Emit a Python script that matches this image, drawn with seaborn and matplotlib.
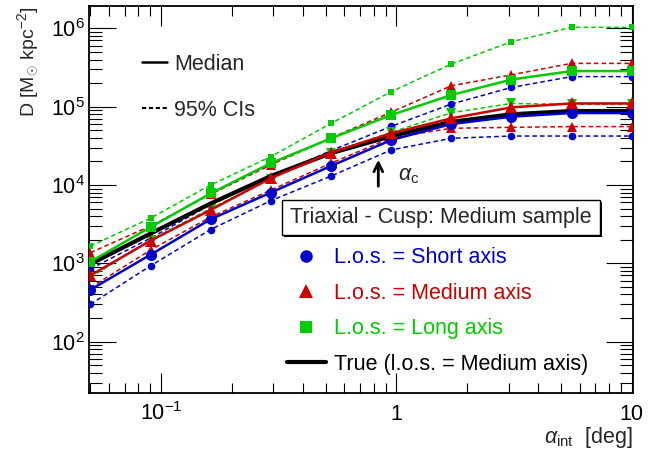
import numpy as np
import pandas as pd
import matplotlib
matplotlib.use("Agg")
import matplotlib.pyplot as plt
import seaborn as sns
from matplotlib.lines import Line2D
from matplotlib.patches import Rectangle
from matplotlib.ticker import LogLocator, NullFormatter

# ---------------- data ----------------
alpha_int = [0.05, 0.0901, 0.162, 0.292, 0.527, 0.949, 1.71, 3.08, 5.55, 10.0]

short_med = [460, 1290, 3650, 8000, 17500, 37500, 60000, 74500, 83000, 83000]
short_hi = [850, 2100, 5600, 12500, 27500, 56000, 108000, 176000, 242000, 242000]
short_lo = [300, 930, 2700, 6300, 13000, 28000, 39500, 42200, 42200, 42200]

medium_med = [700, 1950, 4800, 12200, 26000, 45700, 71000, 98000, 110000, 110000]
medium_hi = [1370, 3000, 7600, 18000, 40000, 85000, 185000, 255000, 357000, 357000]
medium_lo = [490, 1480, 3900, 8600, 19000, 40000, 53000, 54500, 55700, 55700]

long_med = [1050, 2900, 7800, 19000, 39400, 78200, 141000, 222000, 285000, 285000]
long_hi = [1660, 3780, 10000, 23000, 61200, 155000, 350000, 675000, 1030000, 1030000]
long_lo = [663, 2000, 5000, 12000, 26000, 47000, 83700, 110000, 107000, 107000]

true_medium = [980, 2400, 5800, 13000, 25500, 42000, 64000, 80000, 88000, 88000]

xticks = [0.1, 1, 10]
xticklabels = [r"10$^{-1}$", "1", "10"]
yticks = [1e2, 1e3, 1e4, 1e5, 1e6]
yticklabels = [r"10$^{2}$", r"10$^{3}$", r"10$^{4}$", r"10$^{5}$", r"10$^{6}$"]

legend_labels = ["L.o.s. = Short axis", "L.o.s. = Medium axis",
                 "L.o.s. = Long axis", "True (l.o.s. = Medium axis)"]
box_title = "Triaxial - Cusp: Medium sample"

# ---------------- style ----------------
sns.set_style("ticks")
plt.rcParams["font.family"] = ["Liberation Sans", "DejaVu Sans"]
plt.rcParams["mathtext.fontset"] = "custom"
plt.rcParams["mathtext.rm"] = "Liberation Sans"
plt.rcParams["mathtext.it"] = "Liberation Sans:italic"
plt.rcParams["mathtext.bf"] = "Liberation Sans:bold"
FS = 15.5

BLUE, RED, GREEN = "#0000cc", "#cc0000", "#00cc00"
W, H = 657, 449
fig = plt.figure(figsize=(W / 100, H / 100), dpi=100)
ax = fig.add_axes([89 / W, 1 - 393.3 / H, (632.7 - 89) / W, (393.3 - 6) / H])

DASH = (0, (3, 2))


def draw(y, color, marker, ms, ls, lw, z):
    sns.lineplot(x=alpha_int, y=y, color=color, marker=marker, markersize=ms,
                 markeredgewidth=0, linestyle=ls, linewidth=lw, ax=ax,
                 legend=False, estimator=None, sort=False, zorder=z)


# CIs
draw(short_hi, BLUE, "o", 5.5, DASH, 1.1, 3)
draw(short_lo, BLUE, "o", 5.5, DASH, 1.1, 3)
draw(medium_hi, RED, "^", 6.5, DASH, 1.1, 3)
draw(medium_lo, RED, "^", 6.5, DASH, 1.1, 3)
draw(long_hi, GREEN, "s", 5.0, DASH, 1.1, 3)
draw(long_lo, GREEN, "v", 6.5, DASH, 1.1, 3)
# true
sns.lineplot(x=alpha_int, y=true_medium, color="black", linewidth=3.0, ax=ax,
             legend=False, estimator=None, sort=False, zorder=4)
# medians
draw(short_med, BLUE, "o", 8.0, "-", 1.8, 5)
draw(medium_med, RED, "^", 8.5, "-", 1.8, 5)
draw(long_med, GREEN, "s", 7.5, "-", 1.8, 5)

ax.set_xscale("log")
ax.set_yscale("log")
ax.set_xlim(0.0493, 10.1)
ax.set_ylim(21.9, 1.93e6)
ax.set_xlabel("")
ax.set_ylabel("")

ax.set_xticks(xticks, labels=xticklabels)
ax.set_yticks(yticks, labels=yticklabels)
ax.xaxis.set_minor_locator(LogLocator(base=10, subs=np.arange(2, 10), numticks=30))
ax.yaxis.set_minor_locator(LogLocator(base=10, subs=np.arange(2, 10), numticks=30))
ax.xaxis.set_minor_formatter(NullFormatter())
ax.yaxis.set_minor_formatter(NullFormatter())

ax.tick_params(which="both", direction="in", top=True, right=True, width=0.8,
               colors="black", labelsize=FS)
ax.tick_params(axis="x", which="major", length=14.4, pad=19.4)
ax.tick_params(axis="x", which="minor", length=7.2)
ax.tick_params(axis="y", which="major", length=19.4, pad=3)
ax.tick_params(axis="y", which="minor", length=9.6)
for lbl in ax.get_xticklabels():
    lbl.set_va("baseline")
for sp in ax.spines.values():
    sp.set_linewidth(1.3)
    sp.set_color("black")

# axis titles
fig.text(28 / W, 1 - 7 / H, r"D [M$_{\odot}$ kpc$^{-2}$]", rotation=90,
         ha="center", va="top", fontsize=14)
fig.text(633 / W, 1 - 442.5 / H, r"$\alpha_{\rm int}$  [deg]", ha="right",
         va="baseline", fontsize=FS)

# alpha_c arrow
ax.annotate("", xy=(378.3, H - 157), xytext=(378.3, H - 189),
            xycoords="figure pixels", textcoords="figure pixels",
            arrowprops=dict(arrowstyle="->", lw=2, color="black", mutation_scale=16))
fig.text(398 / W, 1 - 176 / H, r"$\alpha_{\rm c}$", ha="left", va="center", fontsize=FS)

# legend 1
h1 = [Line2D([], [], color="black", lw=1.8),
      Line2D([], [], color="black", lw=1.5, ls=(0, (2, 1.3)))]
fig.legend(handles=h1, labels=["Median", "95% CIs"], loc="upper left",
           bbox_to_anchor=(141.7 / W, 1 - 53.6 / H), frameon=False, borderpad=0,
           borderaxespad=0, handlelength=1.16, handletextpad=0.33,
           labelspacing=1.18, fontsize=FS)

# title box with shadow
fig.add_artist(Rectangle((283.7 / W, 1 - 237 / H), 318.3 / W, 35 / H,
                         transform=fig.transFigure, facecolor="black",
                         edgecolor="none", zorder=5))
fig.add_artist(Rectangle((281.7 / W, 1 - 235 / H), 318.3 / W, 35 / H,
                         transform=fig.transFigure, facecolor="white",
                         edgecolor="black", lw=1, zorder=6))
fig.text(440.8 / W, 1 - 217.5 / H, box_title, ha="center", va="center",
         fontsize=FS, zorder=7)

# legend 2
h2 = [Line2D([], [], ls="none", marker="o", color=BLUE, ms=9, mew=0),
      Line2D([], [], ls="none", marker="^", color=RED, ms=10, mew=0),
      Line2D([], [], ls="none", marker="s", color=GREEN, ms=8.5, mew=0),
      Line2D([], [], color="black", lw=3)]
fig.legend(handles=h2, labels=legend_labels, loc="upper left",
           bbox_to_anchor=(287 / W, 1 - 247.3 / H), frameon=False, borderpad=0,
           borderaxespad=0, handlelength=1.8, handletextpad=0.37,
           labelspacing=0.67, fontsize=FS,
           labelcolor=[BLUE, RED, GREEN, "black"])

fig.savefig("out.png", dpi=100)
